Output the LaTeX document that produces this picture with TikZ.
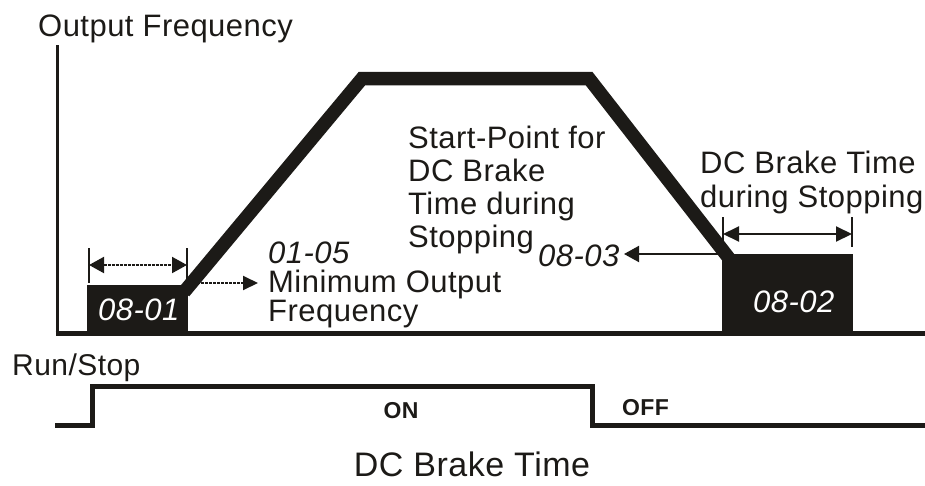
\documentclass[tikz,border=0pt]{standalone}
\usepackage{fontspec}
\setmainfont[LetterSpace=1.5]{Liberation Sans}
\usetikzlibrary{arrows.meta}
\definecolor{ink}{HTML}{1C1A17}
\begin{document}
\begin{tikzpicture}[x=1pt,y=-1pt,
  lbl/.style={anchor=base west,inner sep=0pt,text=ink,font=\fontsize{31}{33}\selectfont},
  num/.style={anchor=base west,inner sep=0pt,font=\fontsize{31}{33}\selectfont\itshape},
  blk/.style={fill=ink,draw=none},
  tick/.style={draw=ink,line width=1.6pt},
  dimline/.style={draw=ink,line width=2pt},
  dotline/.style={draw=ink,line width=2pt,dash pattern=on 3pt off 1pt}
]
\useasboundingbox (0,0) rectangle (925,485);
% axes
\draw[ink,line width=3pt] (57,45) -- (57,333);
\draw[ink,line width=5pt] (55.5,333) -- (925,333);
% trapezoid frequency profile
\draw[ink,line width=13.5pt,line join=miter] (184,292) -- (362,78.5) -- (589,78.5) -- (735,266);
% blocks
\fill[blk] (87,285) rectangle (188,333);
\node[num,text=white] (b1) at (98,320) {08-01};
\fill[blk] (722,254) rectangle (853,333);
\node[num,text=white] (b2) at (753,312) {08-02};
% left dimension
\coordinate (t1a) at (89,248); \coordinate (t1b) at (89,283);
\coordinate (t2a) at (187,248); \coordinate (t2b) at (187,283);
\draw[tick] (t1a) -- (t1b);
\draw[tick] (t2a) -- (t2b);
\coordinate (d1) at (89,265); \coordinate (d2) at (187,265);
\draw[dotline,{Triangle[length=15pt,width=16pt]}-{Triangle[length=15pt,width=16pt]}] (d1) -- (d2);
% min output freq arrow
\coordinate (m1) at (197,283);
\node[num,text=ink] (n0105) at (268,263) {01-05};
\node[lbl] (minout) at (268,292) {Minimum Output};
\node[lbl] (minfreq) at (268,321) {Frequency};
\coordinate (m2) at (258,283);
\draw[dotline,-{Triangle[length=15pt,width=14pt]}] (m1) -- (m2);
% start-point text
\node[lbl] (sp1) at (408,148) {Start-Point for};
\node[lbl] (sp2) at (408,181) {DC Brake};
\node[lbl] (sp3) at (408,214) {Time during};
\node[lbl] (sp4) at (408,247) {Stopping};
\node[num,text=ink] (n0803) at (538,266) {08-03};
\coordinate (a1) at (728,254);
\coordinate (a2) at (624,254);
\draw[dimline,-{Triangle[length=15pt,width=16pt]}] (a1) -- (a2);
% right dimension
\node[lbl] (dc1) at (700,173) {DC Brake Time};
\node[lbl] (dc2) at (700,207) {during Stopping};
\coordinate (r1a) at (723,217); \coordinate (r1b) at (723,247);
\coordinate (r2a) at (852,217); \coordinate (r2b) at (852,247);
\draw[tick] (r1a) -- (r1b);
\draw[tick] (r2a) -- (r2b);
\coordinate (rd1) at (723,234); \coordinate (rd2) at (852,234);
\draw[dimline,{Triangle[length=16pt,width=15pt]}-{Triangle[length=16pt,width=15pt]}] (rd1) -- (rd2);
% title
\node[lbl] (of) at (38,36) {Output Frequency};
% run/stop
\node[lbl,font=\fontsize{30}{32}\selectfont] (rs) at (12,375) {Run/Stop};
\draw[ink,line width=5pt,line join=miter] (55,425) -- (92,425) -- (92,386.5) -- (592,386.5) -- (592,425) -- (925,425);
\node[anchor=base,inner sep=0pt,text=ink,font=\fontsize{23}{25}\selectfont\bfseries] (on) at (401,418) {ON};
\node[anchor=base west,inner sep=0pt,text=ink,font=\fontsize{23}{25}\selectfont\bfseries] (off) at (622,415) {OFF};
\node[anchor=base,inner sep=0pt,text=ink,font=\fontsize{34}{36}\selectfont] (ttl) at (472,476) {DC Brake Time};
\end{tikzpicture}
\end{document}
